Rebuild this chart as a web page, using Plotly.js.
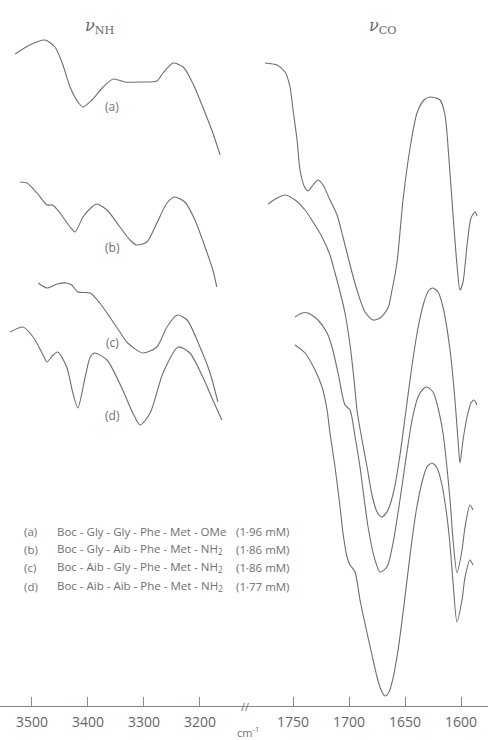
<!DOCTYPE html>
<html>
<head>
<meta charset="utf-8">
<script src="https://cdn.plot.ly/plotly-3.0.1.min.js"></script>
<style>
html,body{margin:0;padding:0;background:#fff;}
#chart{width:488px;height:740px;}
</style>
</head>
<body>
<div id="chart"></div>
<script>
// ---- N-H stretching region (cm-1) and offset transmittance (arbitrary units) ----
const nhWnA = [3530,3504,3477,3459,3446,3432,3418,3409,3393,3373,3355,3334,3307,3277,3266,3248,3230,3213,3195,3177,3164];
const nhTA  = [65.2,66.1,66.6,65.9,64.3,61.9,60.4,59.9,60.6,61.9,62.7,62.4,62.4,62.5,63.3,64.3,63.9,62.3,59.9,57.3,55.1];

const nhWnB = [3521,3509,3491,3473,3463,3450,3432,3423,3409,3393,3384,3366,3343,3325,3313,3295,3277,3259,3245,3227,3209,3191,3177,3170];
const nhTB  = [52.4,52.3,51.3,50.1,50.1,49.3,47.9,47.4,48.9,49.9,50.2,49.6,47.9,46.6,46.1,46.4,48.3,50.3,50.9,50.4,48.6,45.9,43.6,41.9];

const nhWnC = [3489,3473,3455,3438,3429,3418,3396,3379,3361,3343,3329,3302,3277,3259,3241,3223,3200,3182,3168];
const nhTC  = [42.3,41.8,42.2,42.3,42.1,41.4,41.3,40.3,38.9,37.4,36.3,35.3,35.9,37.9,39.1,38.6,35.9,33.3,30.4];

const nhWnD = [3539,3516,3498,3482,3473,3464,3454,3438,3427,3418,3405,3396,3388,3366,3338,3320,3307,3289,3266,3239,3218,3195,3177,3161];
const nhTD  = [37.4,37.9,36.9,35.3,34.4,35.0,35.4,33.9,31.3,29.8,32.9,34.9,35.3,34.6,31.6,29.3,28.1,29.3,33.3,35.9,35.3,32.9,30.6,28.6];

// ---- C=O stretching region ----
const coWnA = [1775.0,1764.3,1757.1,1752.7,1750.0,1746.4,1743.8,1739.3,1736.6,1732.1,1727.7,1723.2,1717.0,1710.7,1705.4,1699.1,1692.9,1685.7,1678.6,1672.3,1665.2,1661.6,1657.1,1651.8,1645.5,1639.3,1633.0,1627.7,1618.7,1614.3,1610.7,1607.1,1603.6,1600.9,1598.2,1594.6,1591.1,1587.5,1585.7];
const coTA  = [64.3,64.1,63.4,61.9,59.6,56.6,53.6,51.8,51.5,52.1,52.6,52.1,50.6,49.1,46.9,44.1,41.6,39.4,38.6,38.8,39.8,41.6,44.4,50.6,55.8,59.3,60.6,60.9,60.6,59.1,54.6,49.1,44.1,41.6,42.4,46.1,48.8,49.4,49.0];

const coWnB = [1772.3,1764.3,1757.1,1748.2,1739.3,1732.1,1724.1,1717.0,1712.5,1708.0,1703.6,1699.1,1695.5,1692.9,1688.4,1683.9,1679.5,1675.0,1670.5,1665.2,1659.8,1654.5,1649.1,1643.7,1638.4,1633.0,1628.6,1625.0,1620.5,1616.1,1609.8,1605.4,1602.7,1600.9,1598.2,1594.6,1591.1,1588.4,1585.7];
const coTB  = [50.2,50.8,51.1,50.6,49.6,48.4,46.9,45.1,43.3,41.4,39.3,36.1,32.6,29.6,26.6,23.9,21.1,19.4,18.9,19.6,21.6,25.1,29.6,34.1,37.8,40.4,41.6,41.8,41.4,39.9,35.6,30.6,26.6,24.3,26.6,28.9,30.3,30.6,30.1];

const coWnC = [1748.2,1742.0,1736.6,1727.7,1719.6,1715.2,1709.8,1703.6,1699.1,1694.6,1690.2,1683.0,1676.8,1672.3,1666.1,1660.7,1654.5,1649.1,1643.7,1638.4,1633.9,1630.4,1625.0,1620.5,1616.1,1609.8,1607.1,1603.6,1599.1,1596.4,1592.0,1589.3];
const coTC  = [38.9,39.3,39.3,38.6,37.3,35.9,33.3,30.1,29.6,26.9,23.9,17.9,14.6,13.4,13.9,16.3,20.6,24.8,28.6,30.9,31.7,31.9,31.4,29.8,27.3,20.6,16.6,13.3,15.6,17.9,20.1,19.6];

const coWnD = [1748.2,1739.3,1730.4,1724.1,1719.6,1717.0,1712.5,1708.0,1705.4,1701.8,1699.1,1694.6,1690.2,1683.9,1679.5,1675.0,1671.4,1667.9,1664.3,1660.7,1656.2,1650.9,1645.5,1640.2,1634.8,1630.4,1625.9,1621.4,1617.0,1612.5,1609.8,1607.1,1603.6,1599.1,1596.4,1592.0,1589.3];
const coTD  = [36.1,35.3,33.6,31.9,29.6,27.3,23.9,19.9,17.3,14.9,14.1,13.4,10.6,7.3,5.1,2.9,1.6,1.0,1.4,2.8,5.6,10.1,15.1,19.4,22.4,23.9,24.3,23.8,22.1,18.9,16.1,12.3,8.4,10.6,12.9,14.6,14.1];

// ---- ticks and text ----
const nhTicks = [3500,3400,3300,3200];
const coTicks = [1750,1700,1650,1600];
const curveLabels = ['(a)','(b)','(c)','(d)'];
const peptides = [
  'Boc - Gly - Gly - Phe - Met - OMe',
  'Boc - Gly - Aib - Phe - Met - NH<sub>2</sub>',
  'Boc - Aib - Gly - Phe - Met - NH<sub>2</sub>',
  'Boc - Aib - Aib - Phe - Met - NH<sub>2</sub>'
];
const concentrations = ['(1·96 mM)','(1·86 mM)','(1·86 mM)','(1·77 mM)'];

const lineColor = '#6e6e6e';
const textColor = '#707070';
const font = 'Open Sans, Liberation Sans, sans-serif';

function tr(x, y, xa) {
  return {x: x, y: y, xaxis: xa, yaxis: 'y', type: 'scatter', mode: 'lines',
    line: {color: lineColor, width: 1.1, shape: 'spline', smoothing: 0.7},
    hoverinfo: 'skip', showlegend: false};
}

const data = [
  tr(nhWnA, nhTA, 'x'), tr(nhWnB, nhTB, 'x'), tr(nhWnC, nhTC, 'x'), tr(nhWnD, nhTD, 'x'),
  tr(coWnA, coTA, 'x2'), tr(coWnB, coTB, 'x2'), tr(coWnC, coTC, 'x2'), tr(coWnD, coTD, 'x2')
];

const annotations = [];
// curve labels in N-H region
const labelY = [60.0, 45.9, 36.4, 29.1];
curveLabels.forEach((t, i) => annotations.push({
  x: 3357, y: labelY[i], xref: 'x', yref: 'y', text: t, showarrow: false,
  font: {family: font, size: 12, color: textColor}
}));
// region titles
annotations.push({x: 3379, y: 68.0, xref: 'x', yref: 'y', showarrow: false,
  text: '<i>ν</i><sub>NH</sub>', font: {family: 'DejaVu Serif, serif', size: 16, color: '#666'}});
annotations.push({x: 1670, y: 68.0, xref: 'x2', yref: 'y', showarrow: false,
  text: '<i>ν</i><sub>CO</sub>', font: {family: 'DejaVu Serif, serif', size: 16, color: '#666'}});
// legend block
const legY = [17.5, 15.7, 13.9, 12.0];
curveLabels.forEach((t, i) => {
  annotations.push({x: 0.046, y: legY[i], xref: 'paper', yref: 'y', xanchor: 'left', showarrow: false,
    text: t, font: {family: font, size: 11.5, color: textColor}});
  annotations.push({x: 0.112, y: legY[i], xref: 'paper', yref: 'y', xanchor: 'left', showarrow: false,
    text: peptides[i], font: {family: font, size: 11.5, color: textColor}});
  annotations.push({x: 0.479, y: legY[i], xref: 'paper', yref: 'y', xanchor: 'left', showarrow: false,
    text: concentrations[i], font: {family: font, size: 11.5, color: textColor}});
});
// axis break and unit
annotations.push({x: 0.502, y: 0, xref: 'paper', yref: 'y', showarrow: false,
  text: '//', font: {family: font, size: 11, color: textColor}, yanchor: 'middle'});
annotations.push({x: 0.508, y: -0.022, xref: 'paper', yref: 'paper', showarrow: false,
  text: 'cm<sup>-1</sup>', font: {family: font, size: 11, color: textColor}, yanchor: 'top'});

const axisCommon = {
  showgrid: false, zeroline: false, showline: true, linecolor: '#888', linewidth: 1,
  ticks: 'inside', ticklen: 9, tickcolor: '#888', tickwidth: 1,
  tickfont: {family: font, size: 14, color: '#666'}, anchor: 'y', fixedrange: true,
  ticklabelstandoff: 3
};

const layout = {
  width: 488, height: 740,
  margin: {l: 0, r: 0, t: 0, b: 34},
  paper_bgcolor: '#fff', plot_bgcolor: '#fff',
  showlegend: false,
  xaxis: Object.assign({}, axisCommon, {domain: [0, 0.50205], range: [3557.1, 3119.6], tickvals: nhTicks}),
  xaxis2: Object.assign({}, axisCommon, {domain: [0.50205, 1], range: [1792.9, 1575.9], tickvals: coTicks}),
  yaxis: {range: [0, 70.6], visible: false, fixedrange: true},
  annotations: annotations
};

Plotly.newPlot('chart', data, layout, {displayModeBar: false, staticPlot: true});
</script>
</body>
</html>
